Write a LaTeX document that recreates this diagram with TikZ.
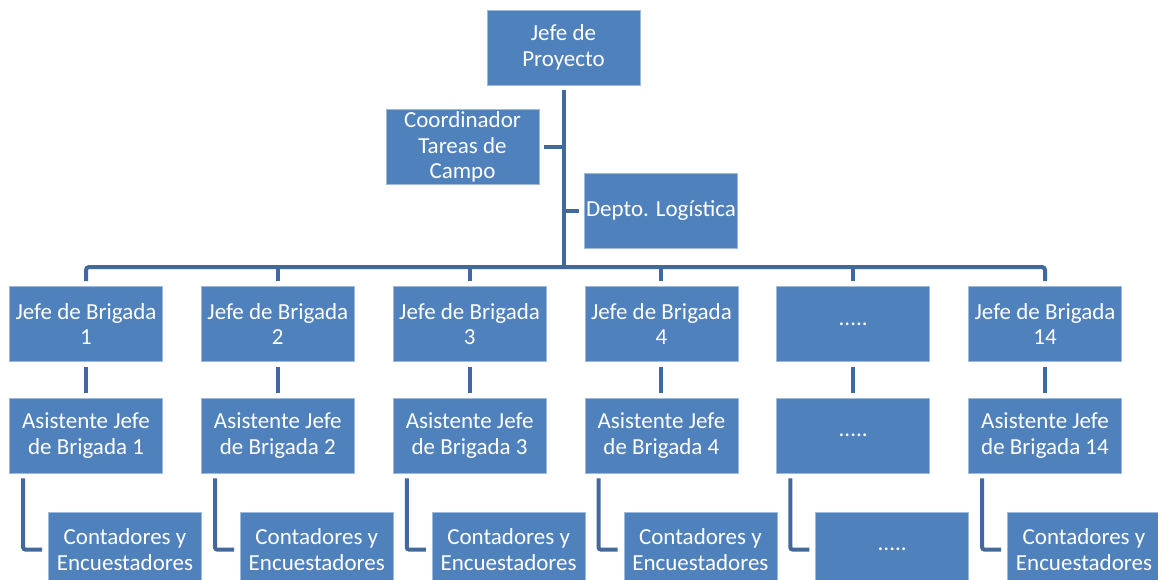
\documentclass[tikz,border=0pt]{standalone}
\usepackage{fontspec}
\setmainfont{Carlito}
\definecolor{boxblue}{HTML}{4F81BD}
\definecolor{lineblue}{HTML}{41699B}
\tikzset{
  unit/.style={rectangle, fill=boxblue, draw=boxblue!55!white, line width=0.6pt,
    text=white, minimum width=153pt, minimum height=75pt, inner sep=0pt,
    align=center, font=\fontsize{23}{25.5}\selectfont},
  link/.style={draw=lineblue, line width=4pt},
}
\begin{document}
\begin{tikzpicture}[x=1pt,y=-1pt]
    \useasboundingbox (0,0) rectangle (1158,579);
    \clip (0,0) rectangle (1158,579);

    % Top level
    \node[unit] (proyecto) at (563.5,47.5) {Jefe de\\Proyecto};
    \node[unit] (coord) at (462.5,147) {Coordinador\\Tareas de\\Campo};
    \node[unit] (logistica) at (661,210.5) {Depto. Logística};
    \coordinate (bar) at (563.5,267);

    % Jefes de brigada
    \node[unit] (jefe1) at (86,324) {Jefe de Brigada\\1};
    \node[unit] (jefe2) at (277.8,324) {Jefe de Brigada\\2};
    \node[unit] (jefe3) at (469.6,324) {Jefe de Brigada\\3};
    \node[unit] (jefe4) at (661.4,324) {Jefe de Brigada\\4};
    \node[unit] (jefe5) at (853.2,324) {.....};
    \node[unit] (jefe6) at (1045,324) {Jefe de Brigada\\14};

    % Asistentes
    \node[unit] (asis1) at (86,435.5) {Asistente Jefe\\de Brigada 1};
    \node[unit] (asis2) at (277.8,435.5) {Asistente Jefe\\de Brigada 2};
    \node[unit] (asis3) at (469.6,435.5) {Asistente Jefe\\de Brigada 3};
    \node[unit] (asis4) at (661.4,435.5) {Asistente Jefe\\de Brigada 4};
    \node[unit] (asis5) at (853.2,435.5) {.....};
    \node[unit] (asis6) at (1045,435.5) {Asistente Jefe\\de Brigada 14};

    % Contadores
    \node[unit] (cont1) at (125,549.5) {Contadores y\\Encuestadores};
    \node[unit] (cont2) at (316.8,549.5) {Contadores y\\Encuestadores};
    \node[unit] (cont3) at (508.6,549.5) {Contadores y\\Encuestadores};
    \node[unit] (cont4) at (700.4,549.5) {Contadores y\\Encuestadores};
    \node[unit] (cont5) at (892.2,549.5) {.....};
    \node[unit] (cont6) at (1084,549.5) {Contadores y\\Encuestadores};

    % Trunk and staff
    \draw[link] ([yshift=-5pt]proyecto.south) -- (bar);
    \draw[link] ([xshift=5pt]coord.east) -- (coord.east -| bar);
    \draw[link] (logistica.west -| bar) -- ([xshift=-5pt]logistica.west);

    % Bar to brigades
    \draw[link, rounded corners=3pt] ([yshift=5pt]jefe1.north) |- (bar) -| ([yshift=5pt]jefe6.north);
    \foreach \n in {2,3,4,5}
        \draw[link] ([yshift=5pt]jefe\n.north) -- (jefe\n.north |- bar);

    % Within each brigade
    \foreach \n in {1,...,6} {
        \draw[link] ([yshift=-5pt]jefe\n.south) -- ([yshift=5pt]asis\n.north);
        \draw[link, rounded corners=2pt] ([xshift=14pt, yshift=-5pt]asis\n.south west) |- ([xshift=-6pt]cont\n.west);
    }
\end{tikzpicture}
\end{document}
